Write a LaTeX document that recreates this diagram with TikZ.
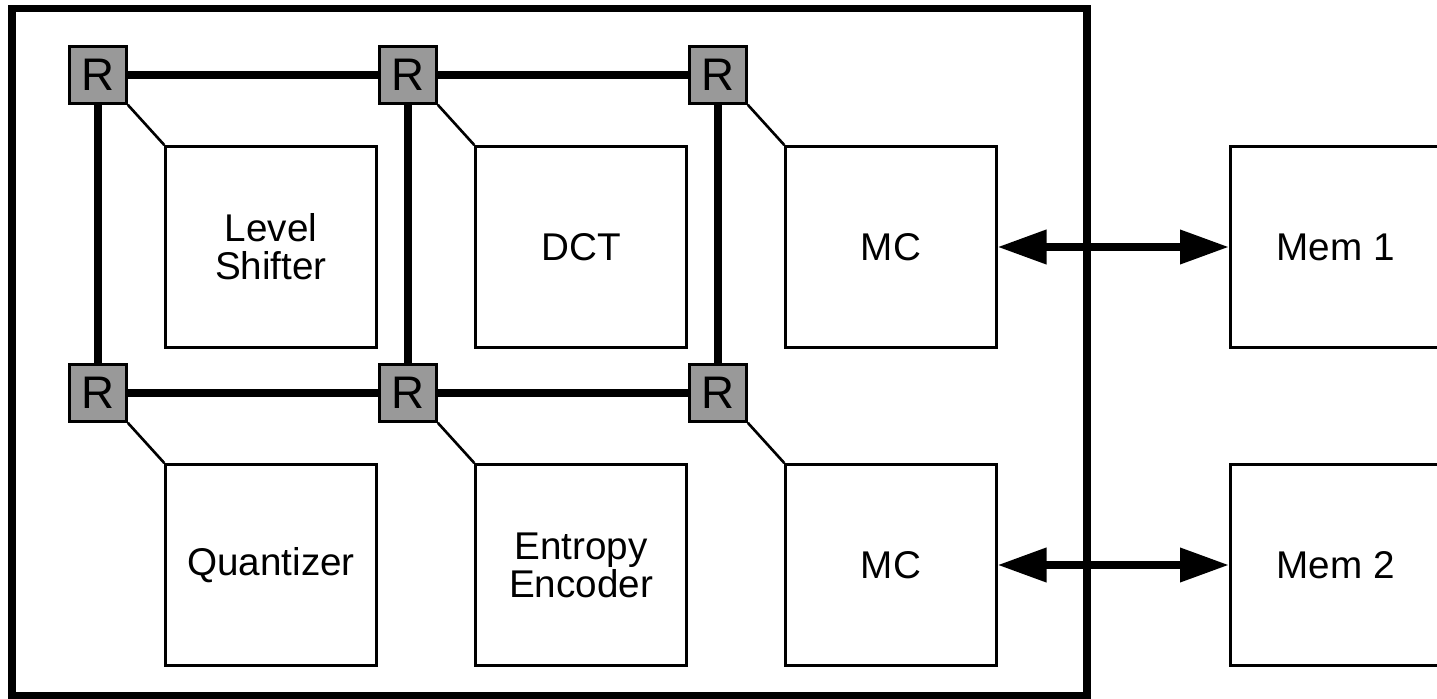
\documentclass[tikz,border=0pt]{standalone}
\usepackage{fontspec}
\setmainfont{Liberation Sans}
\usetikzlibrary{arrows.meta, positioning}

\begin{document}
\begin{tikzpicture}[
    on grid,
    node distance=6.2cm,
    router/.style={rectangle, draw, line width=1.8pt, fill=black!40, minimum size=1.13cm, inner sep=0pt, font=\fontsize{26pt}{26pt}\selectfont},
    block/.style={rectangle, draw, line width=1.6pt, fill=white, minimum width=4.21cm, minimum height=4.02cm, align=center, font=\fontsize{22pt}{21.6pt}\selectfont},
    link/.style={line width=4pt},
    tap/.style={line width=1.5pt},
    frame/.style={line width=4.3pt},
    biarrow/.style={{Triangle[length=27.8pt, width=18.7pt]}-{Triangle[length=27.8pt, width=18.7pt]}, line width=4.3pt}
]
    \useasboundingbox (-1.96,1.5) rectangle (26.78,-12.48);
    \draw[frame] (-1.72,1.33) rectangle (19.78,-12.42);

    % routers
    \node[router] (r1) at (0,0) {R};
    \node[router, right=of r1] (r2) {R};
    \node[router, right=of r2] (r3) {R};
    \node[router, below=6.36cm of r1] (r4) {R};
    \node[router, right=of r4] (r5) {R};
    \node[router, right=of r5] (r6) {R};

    % processing blocks
    \node[block, below right=3.44cm and 3.46cm of r1] (shift) {Level\\Shifter};
    \node[block, below right=3.44cm and 3.46cm of r2] (dct) {DCT};
    \node[block, below right=3.44cm and 3.46cm of r3] (mc1) {MC};
    \node[block, below right=3.44cm and 3.46cm of r4] (quant) {Quantizer};
    \node[block, below right=3.44cm and 3.46cm of r5] (entropy) {Entropy\\Encoder};
    \node[block, below right=3.44cm and 3.46cm of r6] (mc2) {MC};
    \node[block, right=8.89cm of mc1] (mem1) {Mem 1};
    \node[block, right=8.89cm of mc2] (mem2) {Mem 2};

    \draw[link] (r1) -- (r2);
    \draw[link] (r2) -- (r3);
    \draw[link] (r4) -- (r5);
    \draw[link] (r5) -- (r6);
    \draw[link] (r1) -- (r4);
    \draw[link] (r2) -- (r5);
    \draw[link] (r3) -- (r6);

    \draw[tap] (r1.south east) -- (shift.north west);
    \draw[tap] (r2.south east) -- (dct.north west);
    \draw[tap] (r3.south east) -- (mc1.north west);
    \draw[tap] (r4.south east) -- (quant.north west);
    \draw[tap] (r5.south east) -- (entropy.north west);
    \draw[tap] (r6.south east) -- (mc2.north west);

    \draw[biarrow] (mc1) -- (mem1);
    \draw[biarrow] (mc2) -- (mem2);
\end{tikzpicture}
\end{document}
